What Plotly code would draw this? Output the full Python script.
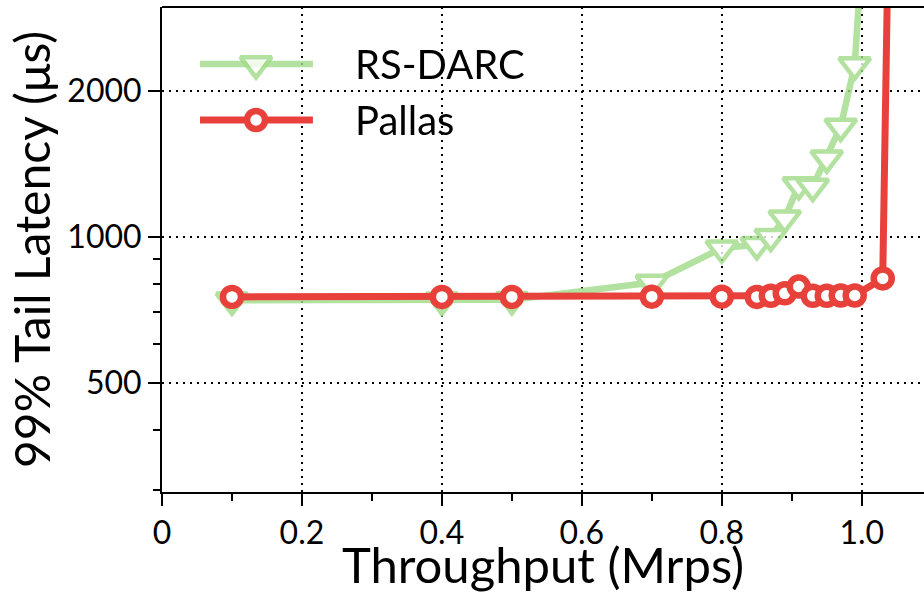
import plotly.graph_objects as go

# Data
pallas_x = [0.1, 0.4, 0.5, 0.7, 0.8, 0.85, 0.87, 0.89, 0.91, 0.93, 0.95, 0.97, 0.99, 1.03, 1.04]
pallas_y = [752, 752, 752, 753, 753, 752, 756, 765, 790, 756, 756, 757, 757, 821, 6400]
darc_x = [0.1, 0.4, 0.5, 0.7, 0.8, 0.85, 0.87, 0.89, 0.91, 0.93, 0.95, 0.97, 0.99, 1.0]
darc_y = [740, 740, 742, 805, 948, 963, 1001, 1093, 1280, 1270, 1453, 1689, 2261, 3800]

x_ticks = [0, 0.2, 0.4, 0.6, 0.8, 1.0]
x_ticktext = ["0", "0.2", "0.4", "0.6", "0.8", "1.0"]
x_minor = [0.1, 0.3, 0.5, 0.7, 0.9]
y_ticks = [500, 1000, 2000]
y_ticktext = ["500", "1000", "2000"]
y_minor = [300, 400, 600, 700, 800, 900, 3000]

series_names = ["RS-DARC", "Pallas"]

FONT = "Lato"
GREEN = "rgb(160,218,135)"
RED = "#e8403a"
GRID_DASH = "2px,5px"

styles = {
    "RS-DARC": dict(line=dict(color=GREEN, width=6.5), opacity=0.8,
                    marker=dict(symbol="triangle-down", size=27, color="white",
                                line=dict(color=GREEN, width=4.5))),
    "Pallas": dict(line=dict(color=RED, width=7), opacity=1.0,
                   marker=dict(symbol="circle", size=18, color="white",
                               line=dict(color=RED, width=6.5))),
}

fig = go.Figure()
for name, xs, ys in [("RS-DARC", darc_x, darc_y), ("Pallas", pallas_x, pallas_y)]:
    st = styles[name]
    fig.add_trace(go.Scatter(x=xs, y=ys, name=name, mode="lines+markers",
                             line=st["line"], opacity=st["opacity"], marker=st["marker"],
                             showlegend=False))

# Custom legend drawn on an overlay axis (0..1 over the plot area)
leg_y = {"RS-DARC": 0.8825, "Pallas": 0.767}
for name in series_names:
    st = styles[name]
    yy = leg_y[name]
    fig.add_trace(go.Scatter(x=[0.0499, 0.198], y=[yy, yy], mode="lines", line=st["line"],
                             opacity=st["opacity"], xaxis="x2", yaxis="y2",
                             showlegend=False, hoverinfo="skip"))
    fig.add_trace(go.Scatter(x=[0.1234], y=[yy], mode="markers", marker=st["marker"],
                             opacity=st["opacity"], xaxis="x2", yaxis="y2",
                             showlegend=False, hoverinfo="skip"))
    fig.add_annotation(x=0.2507, y=yy, xref="x2", yref="y2", text=name, showarrow=False,
                       xanchor="left", yanchor="middle", font=dict(size=40, family=FONT, color="black"))

fig.update_layout(
    width=924, height=593,
    margin=dict(l=162, r=0, t=7, b=101),
    paper_bgcolor="white", plot_bgcolor="white",
    font=dict(family=FONT, color="black"),
    showlegend=False,
    xaxis=dict(
        range=[0, 1.089],
        tickvals=x_ticks, ticktext=x_ticktext,
        ticks="outside", ticklen=12, tickwidth=2, tickcolor="black",
        tickfont=dict(size=32, family=FONT),
        minor=dict(tickvals=x_minor, ticks="outside", ticklen=7, tickwidth=2, tickcolor="black",
                   showgrid=False),
        showline=True, linecolor="black", linewidth=2, mirror=False,
        showgrid=True, gridcolor="black", griddash=GRID_DASH, gridwidth=1.5,
        zeroline=False,
        title=dict(text="Throughput (Mrps)", font=dict(size=49, family=FONT), standoff=0),
    ),
    yaxis=dict(
        type="log",
        range=[2.474, 3.474],
        tickvals=y_ticks, ticktext=y_ticktext,
        ticks="outside", ticklen=12, tickwidth=2, tickcolor="black",
        tickfont=dict(size=32, family=FONT),
        minor=dict(tickvals=y_minor, ticks="outside", ticklen=7, tickwidth=2, tickcolor="black",
                   showgrid=False),
        showline=True, linecolor="black", linewidth=2,
        showgrid=True, gridcolor="black", griddash=GRID_DASH, gridwidth=1.5,
        zeroline=False,
        title=dict(text="99% Tail Latency (μs)", font=dict(size=48, family=FONT), standoff=2),
    ),
    xaxis2=dict(overlaying="x", range=[0, 1], visible=False, fixedrange=True),
    yaxis2=dict(overlaying="y", range=[0, 1], visible=False, fixedrange=True),
)
# top frame line
fig.add_shape(type="line", xref="paper", yref="paper", x0=0, x1=1, y0=1, y1=1,
              line=dict(color="black", width=2))

fig.write_html("out.html")
